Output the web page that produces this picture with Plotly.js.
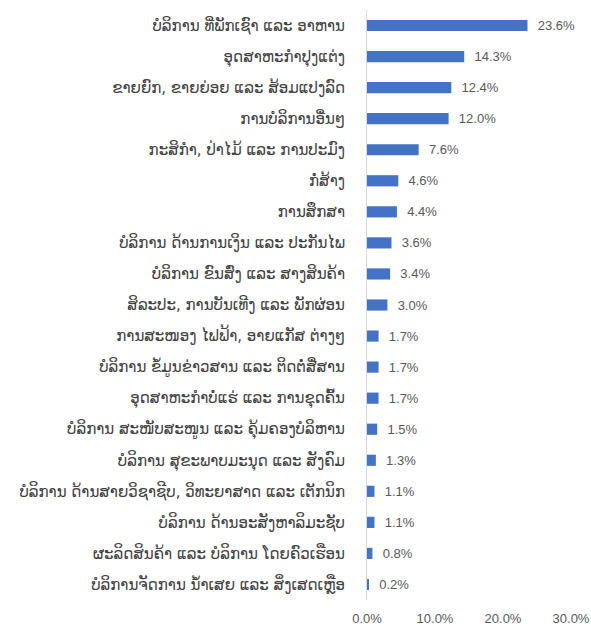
<!DOCTYPE html>
<html>
<head>
<meta charset="utf-8">
<script src="https://cdn.plot.ly/plotly-3.0.1.min.js"></script>
<style>
  body { margin: 0; background: #fff; }
  #chart { width: 591px; height: 628px; }
</style>
</head>
<body>
<div id="chart"></div>
<script>
var sectors = [
  "ບໍລິການ ທີ່ພັກເຊົາ ແລະ ອາຫານ",
  "ອຸດສາຫະກຳປຸງແຕ່ງ",
  "ຂາຍຍົກ, ຂາຍຍ່ອຍ ແລະ ສ້ອມແປງລົດ",
  "ການບໍລິການອື່ນໆ",
  "ກະສິກຳ, ປ່າໄມ້ ແລະ ການປະມົງ",
  "ກໍ່ສ້າງ",
  "ການສຶກສາ",
  "ບໍລິການ ດ້ານການເງິນ ແລະ ປະກັນໄພ",
  "ບໍລິການ ຂົນສົ່ງ ແລະ ສາງສິນຄ້າ",
  "ສິລະປະ, ການບັນເທີງ ແລະ ພັກຜ່ອນ",
  "ການສະໜອງ ໄຟຟ້າ, ອາຍແກັສ ຕ່າງໆ",
  "ບໍລິການ ຂໍ້ມູນຂ່າວສານ ແລະ ຕິດຕໍ່ສື່ສານ",
  "ອຸດສາຫະກຳບໍ່ແຮ່ ແລະ ການຂຸດຄົ້ນ",
  "ບໍລິການ ສະໜັບສະໜູນ ແລະ ຄຸ້ມຄອງບໍລິຫານ",
  "ບໍລິການ ສຸຂະພາບມະນຸດ ແລະ ສັງຄົມ",
  "ບໍລິການ ດ້ານສາຍວິຊາຊີບ, ວິທະຍາສາດ ແລະ ເຕັກນິກ",
  "ບໍລິການ ດ້ານອະສັງຫາລິມະຊັບ",
  "ຜະລິດສິນຄ້າ ແລະ ບໍລິການ ໂດຍຄົວເຮືອນ",
  "ບໍລິການຈັດການ ນ້ຳເສຍ ແລະ ສິ່ງເສດເຫຼືອ"
];
var shares = [23.6, 14.3, 12.4, 12.0, 7.6, 4.6, 4.4, 3.6, 3.4, 3.0, 1.7, 1.7, 1.7, 1.5, 1.3, 1.1, 1.1, 0.8, 0.2];
var xTicks = [0, 10, 20, 30];
var xTickText = xTicks.map(function (v) { return v.toFixed(1) + "%"; });

var trace = {
  type: "bar",
  orientation: "h",
  x: shares,
  y: sectors,
  marker: { color: "#4472C4" },
  texttemplate: "\u00a0\u00a0%{x:.1f}%",
  textposition: "outside",
  constraintext: "none",
  textfont: { family: "Liberation Sans, Arial, sans-serif", size: 13, color: "#595959" },
  cliponaxis: false,
  hoverinfo: "x+y"
};

var layout = {
  width: 591,
  height: 628,
  margin: { l: 367, r: 20, t: 10, b: 28 },
  paper_bgcolor: "#ffffff",
  plot_bgcolor: "#ffffff",
  bargap: 0.64,
  showlegend: false,
  xaxis: {
    range: [0, 30],
    tickmode: "array",
    tickvals: xTicks,
    ticktext: xTickText,
    showgrid: false,
    zeroline: false,
    showline: false,
    ticklabelstandoff: 9,
    tickfont: { family: "Liberation Sans, Arial, sans-serif", size: 13, color: "#595959" },
    fixedrange: true
  },
  yaxis: {
    type: "category",
    autorange: "reversed",
    showgrid: false,
    zeroline: false,
    showline: true,
    linecolor: "#d9d9d9",
    linewidth: 1,
    ticks: "",
    ticklabelstandoff: 18,
    tickfont: { family: "DejaVu Sans, sans-serif", size: 15, color: "#404040" },
    fixedrange: true
  }
};

Plotly.newPlot("chart", [trace], layout, { displayModeBar: false, responsive: false });
</script>
</body>
</html>
